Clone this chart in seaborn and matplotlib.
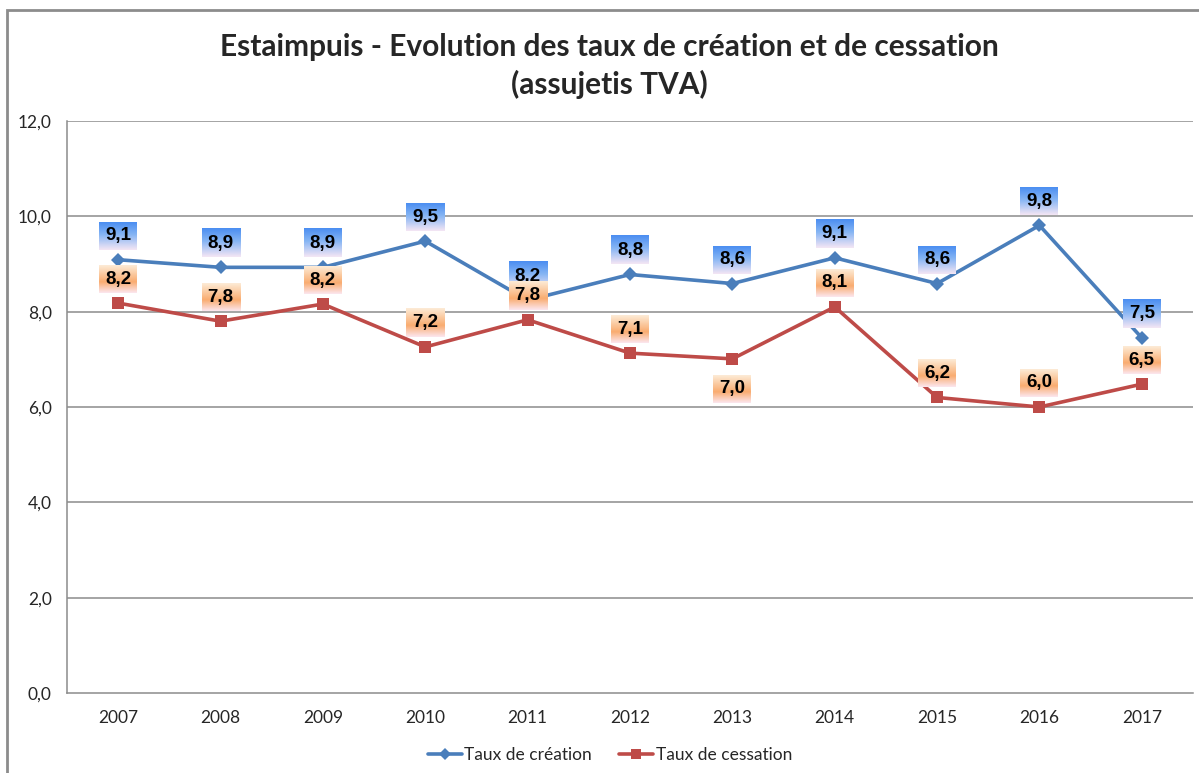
import numpy as np
import pandas as pd
import matplotlib
matplotlib.use("Agg")
import matplotlib.pyplot as plt
import seaborn as sns
from matplotlib.colors import LinearSegmentedColormap
from matplotlib.lines import Line2D
from matplotlib.patches import Rectangle

years = ["2007", "2008", "2009", "2010", "2011", "2012", "2013", "2014", "2015", "2016", "2017"]
creation = [9.09, 8.93, 8.93, 9.48, 8.24, 8.78, 8.59, 9.13, 8.59, 9.81, 7.45]
cessation = [8.18, 7.80, 8.16, 7.26, 7.83, 7.13, 7.01, 8.10, 6.20, 6.00, 6.48]
creation_labels = ["9,1", "8,9", "8,9", "9,5", "8,2", "8,8", "8,6", "9,1", "8,6", "9,8", "7,5"]
cessation_labels = ["8,2", "7,8", "8,2", "7,2", "7,8", "7,1", "7,0", "8,1", "6,2", "6,0", "6,5"]
cessation_label_side = ["above"] * 6 + ["below"] + ["above"] * 4
yticks = [0, 2, 4, 6, 8, 10, 12]
title = "Estaimpuis - Evolution des taux de création et de cessation\n(assujetis TVA)"
series_names = ["Taux de création", "Taux de cessation"]

sns.set_theme(style="white")
plt.rcParams["font.family"] = ["Liberation Sans", "DejaVu Sans"]

W, H = 1199, 773
fig = plt.figure(figsize=(W / 100, H / 100), dpi=100)
fig.patch.set_facecolor("white")
# outer chart border
fig.patches.append(Rectangle((7 / W, -0.5), 2.0, 1.5 - 10 / H, transform=fig.transFigure,
                             fill=False, edgecolor="#8c8c8c", linewidth=2.0))

left, right, bottom, top = 67, 1193, 693, 121
ax = fig.add_axes([left / W, 1 - bottom / H, (right - left) / W, (bottom - top) / H])

BLUE = "#4A7EBB"
RED = "#BE4B48"
x = np.arange(len(years))
df = pd.DataFrame({"x": np.concatenate([x, x]),
                   "val": creation + cessation,
                   "serie": [series_names[0]] * len(x) + [series_names[1]] * len(x)})

sns.lineplot(data=df[df.serie == series_names[0]], x="x", y="val", ax=ax, color=BLUE,
             linewidth=2.6, marker="D", markersize=7, markeredgewidth=0, zorder=3)
sns.lineplot(data=df[df.serie == series_names[1]], x="x", y="val", ax=ax, color=RED,
             linewidth=2.6, marker="s", markersize=8, markeredgewidth=0, zorder=3)

ax.set_xlim(-0.5, len(years) - 0.5)
ax.set_ylim(0, 12)
ax.set_yticks(yticks)
ax.set_yticklabels([f"{v:.1f}".replace(".", ",") for v in yticks], fontsize=12.5,
                   family=["Lato", "DejaVu Sans"])
ax.set_xticks(x)
ax.set_xticklabels(years, fontsize=12.5, family=["Lato", "DejaVu Sans"])
ax.set_xticks(np.arange(-0.5, len(years) + 0.5, 1), minor=True)
ax.tick_params(axis="x", which="major", length=0, pad=12)
ax.tick_params(axis="x", which="minor", length=5, width=1, color="#868686", direction="out")
ax.tick_params(axis="y", which="major", length=5, width=1, color="#868686", direction="out", pad=6)
ax.set_xlabel("")
ax.set_ylabel("")
ax.grid(False)
for v in yticks[1:]:
    ax.axhline(v, color="#8c8c8c", linewidth=1.1, zorder=1)
for s in ["top", "right"]:
    ax.spines[s].set_visible(False)
for s in ["left", "bottom"]:
    ax.spines[s].set_color("#8c8c8c")
    ax.spines[s].set_linewidth(1.1)
if ax.legend_:
    ax.legend_.remove()

blue_cmap = LinearSegmentedColormap.from_list(
    "b", [(0, "#4B8EF1"), (0.45, "#86B5F4"), (1, "#F4E6F4")])
orange_cmap = LinearSegmentedColormap.from_list(
    "o", [(0, "#FDEBD6"), (0.6, "#F9AC70"), (1, "#FCE6EE")])
grad = np.linspace(0, 1, 64).reshape(-1, 1)

bw, bh = 38, 28  # box size in pixels


def label(xi, yi, text, cmap, dy_px, z):
    cx, cy = ax.transData.transform((xi, yi))
    cy = cy + dy_px
    inv = ax.transData.inverted()
    x0, y0 = inv.transform((cx - bw / 2, cy - bh / 2))
    x1, y1 = inv.transform((cx + bw / 2, cy + bh / 2))
    ax.imshow(grad, cmap=cmap, extent=(x0, x1, y0, y1), aspect="auto",
              origin="upper", zorder=z, interpolation="bilinear")
    xc, yc = inv.transform((cx, cy))
    ax.text(xc, yc, text, ha="center", va="center", fontsize=13.5, fontweight="bold",
            color="black", zorder=z + 0.1)


for i in range(len(years)):
    label(x[i], creation[i], creation_labels[i], blue_cmap, 24, 5)
for i in range(len(years)):
    dy = 24 if cessation_label_side[i] == "above" else -30
    label(x[i], cessation[i], cessation_labels[i], orange_cmap, dy, 6)

ax.set_xlim(-0.5, len(years) - 0.5)
ax.set_ylim(0, 12)

fig.text(609 / W, 1 - 66 / H, title, ha="center", va="center", fontsize=21.5,
         fontweight="bold", family=["Lato", "DejaVu Sans"], linespacing=1.38)

handles = [Line2D([], [], color=BLUE, lw=2.6, marker="D", markersize=6.5, markeredgewidth=0),
           Line2D([], [], color=RED, lw=2.6, marker="s", markersize=7.5, markeredgewidth=0)]
fig.legend(handles, series_names, loc="center", bbox_to_anchor=(610 / W, 1 - 755 / H),
           ncol=2, frameon=False, handlelength=1.95, handletextpad=0.15,
           columnspacing=1.55, prop={"family": ["Lato", "DejaVu Sans"], "size": 12.5})

fig.savefig("out.png", dpi=100)
